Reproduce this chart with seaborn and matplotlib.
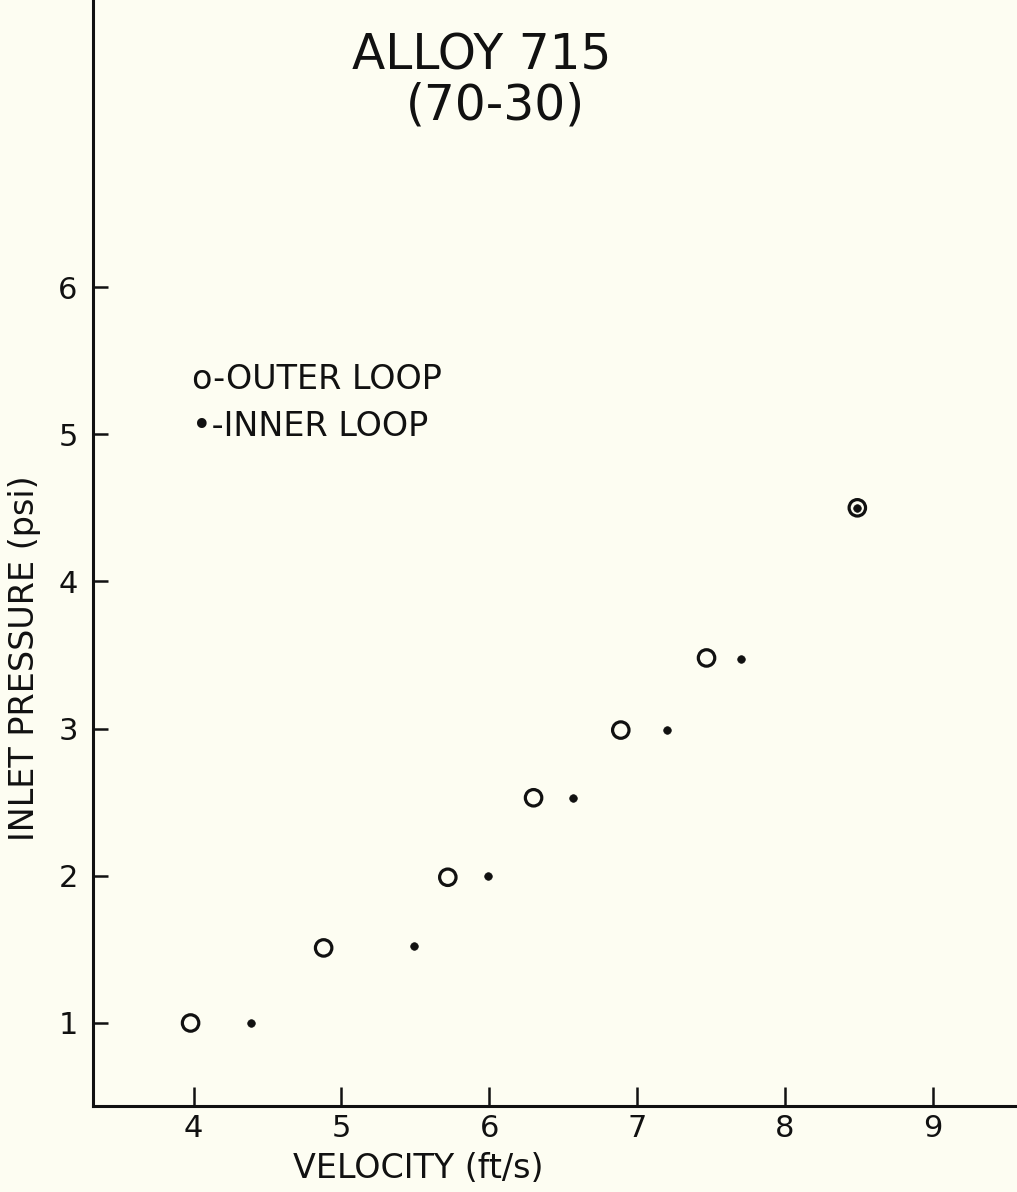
import matplotlib
matplotlib.use("Agg")
import matplotlib.pyplot as plt
import seaborn as sns
import pandas as pd

# Data
outer_velocity = [3.98, 4.88, 5.72, 6.30, 6.89, 7.47, 8.49]
outer_pressure = [1.00, 1.51, 1.99, 2.53, 2.99, 3.48, 4.50]
inner_velocity = [4.39, 5.49, 5.99, 6.57, 7.20, 7.70, 8.49]
inner_pressure = [1.00, 1.52, 2.00, 2.53, 2.99, 3.47, 4.50]

x_ticks = [4, 5, 6, 7, 8, 9]
y_ticks = [1, 2, 3, 4, 5, 6]

title_lines = ["ALLOY 715", "(70-30)"]
legend_lines = ["o-OUTER LOOP", "•-INNER LOOP"]
x_label = "VELOCITY (ft/s)"
y_label = "INLET PRESSURE (psi)"

outer_df = pd.DataFrame({"velocity": outer_velocity, "pressure": outer_pressure})
inner_df = pd.DataFrame({"velocity": inner_velocity, "pressure": inner_pressure})

sns.set_style("ticks")
plt.rcParams["font.family"] = ["DejaVu Sans"]

bg = "#fdfdf2"
ink = "#111111"

fig = plt.figure(figsize=(10.17, 11.92), dpi=100, facecolor=bg)
ax = fig.add_axes([93 / 1017, 1 - 1106 / 1192, 1 - 93 / 1017, 1106 / 1192])
ax.set_facecolor(bg)

sns.scatterplot(data=outer_df, x="velocity", y="pressure", ax=ax,
                marker="o", s=140, facecolor="none", edgecolor=ink,
                linewidth=2.3, zorder=3)
sns.scatterplot(data=inner_df, x="velocity", y="pressure", ax=ax,
                marker="o", s=30, color=ink, edgecolor=ink, linewidth=0.5,
                zorder=4)

ax.set_xlim(3.32, 9.57)
ax.set_ylim(0.436, 7.95)
ax.set_xticks(x_ticks)
ax.set_yticks(y_ticks)
ax.set_xticklabels([str(t) for t in x_ticks])
ax.set_yticklabels([str(t) for t in y_ticks])

for side in ["top", "right"]:
    ax.spines[side].set_visible(False)
for side in ["left", "bottom"]:
    ax.spines[side].set_linewidth(2.2)
    ax.spines[side].set_color(ink)

ax.tick_params(axis="x", direction="in", length=14, width=1.8, pad=6,
               labelsize=22, colors=ink)
ax.tick_params(axis="y", direction="in", length=11, width=1.8, pad=11,
               labelsize=22, colors=ink)

ax.set_xlabel(x_label, fontsize=24, color=ink)
ax.set_ylabel(y_label, fontsize=24, color=ink)
ax.xaxis.set_label_coords((418 - 93) / 924, -(1168 - 1106) / 1106)
ax.xaxis.label.set_va("center")
ax.yaxis.set_label_coords((25 - 93) / 924, (1106 - 658) / 1106)
ax.yaxis.label.set_va("center")

# Title lines (in pixel-derived figure coordinates)
fig.text(482 / 1017, 1 - 56 / 1192, title_lines[0], fontsize=35,
         ha="center", va="center", color=ink)
fig.text(495 / 1017, 1 - 105 / 1192, title_lines[1], fontsize=35,
         ha="center", va="center", color=ink)

# Hand-lettered legend
fig.text(192 / 1017, 1 - 380 / 1192, legend_lines[0], fontsize=24,
         ha="left", va="center", color=ink)
fig.text(192 / 1017, 1 - 427 / 1192, legend_lines[1], fontsize=24,
         ha="left", va="center", color=ink)

fig.savefig("out.png", dpi=100, facecolor=bg)
